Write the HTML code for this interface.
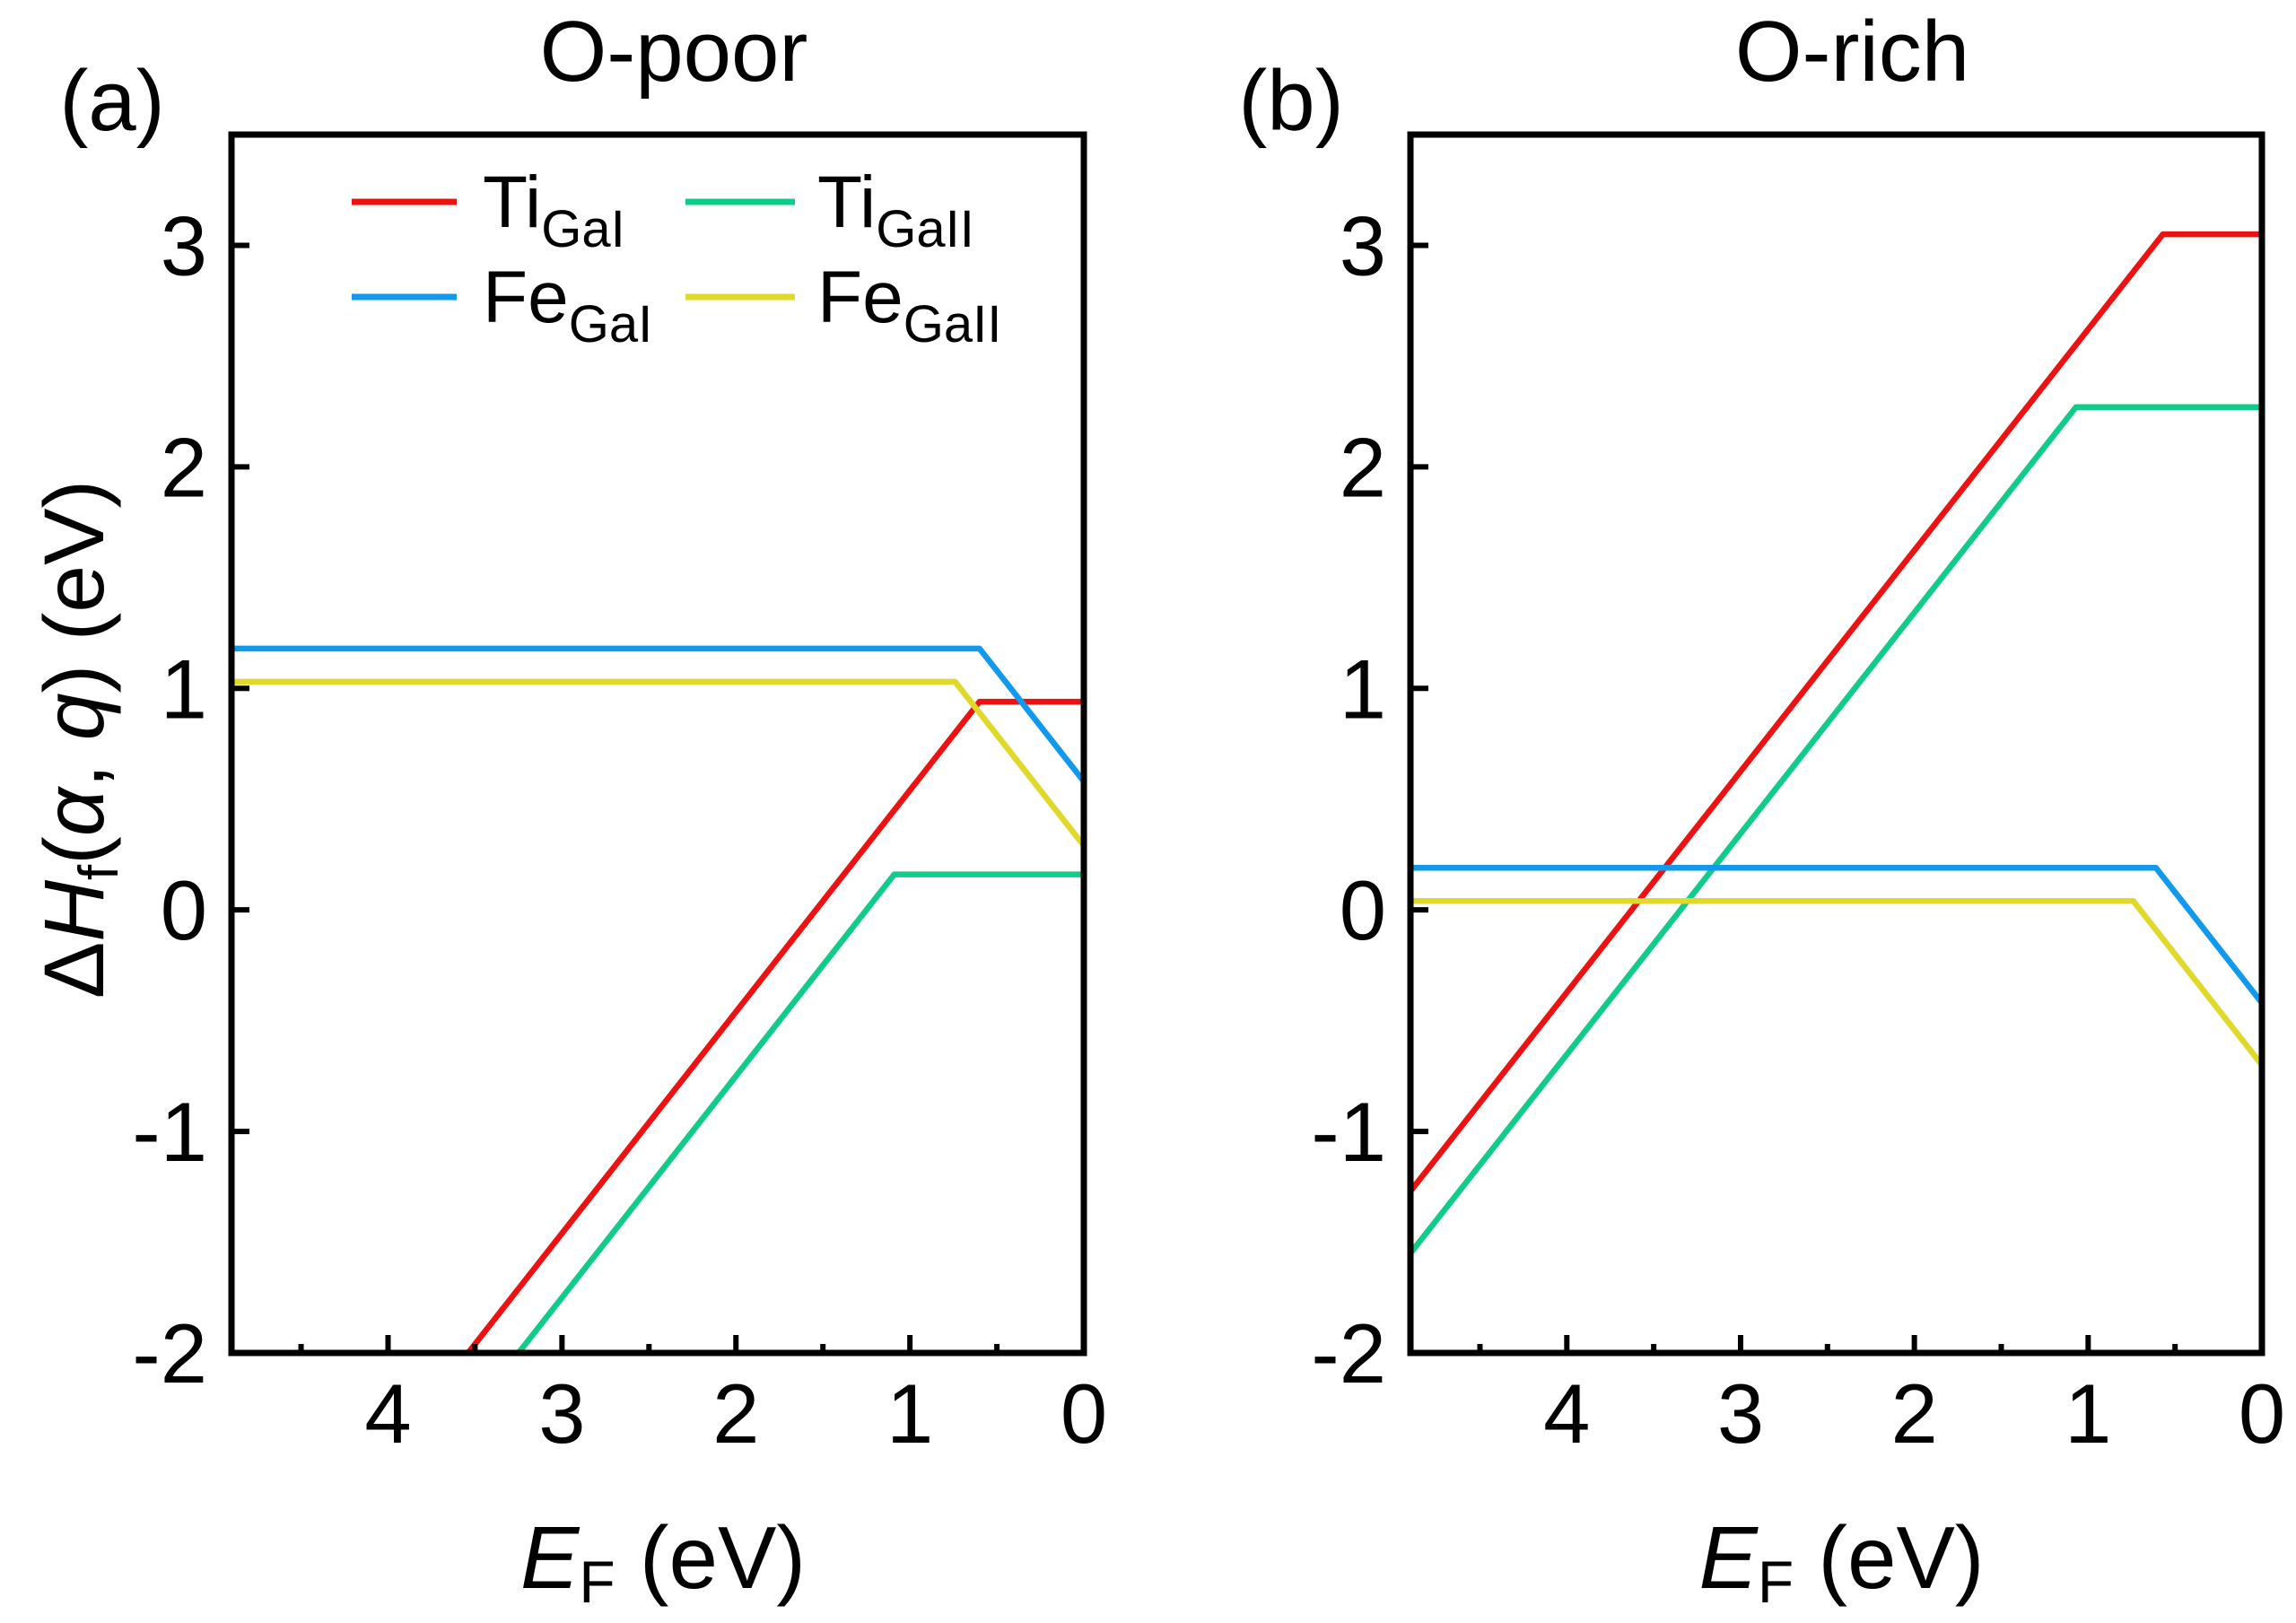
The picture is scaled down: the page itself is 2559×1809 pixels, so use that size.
<!DOCTYPE html>
<html><head><meta charset="utf-8"><style>
html,body{margin:0;padding:0;background:#fff;width:2559px;height:1809px;overflow:hidden;}
svg{display:block;font-family:"Liberation Sans",Arial,sans-serif;}
</style></head><body>
<svg id="fig" width="2559" height="1809" viewBox="0 0 2559 1809" xmlns="http://www.w3.org/2000/svg">
<g id="root"></g>
</svg>
<script>
// Panel (a) O-poor data: breakpoints (E_F, dH)
const aTiGaIx = [4.9, 0.6, 0.0];
const aTiGaIy = [-3.36, 0.94, 0.94];
const aTiGaIIx = [4.9, 1.09, 0.0];
const aTiGaIIy = [-3.65, 0.16, 0.16];
const aFeGaIx = [4.9, 0.6, 0.0];
const aFeGaIy = [1.18, 1.18, 0.58];
const aFeGaIIx = [4.9, 0.74, 0.0];
const aFeGaIIy = [1.03, 1.03, 0.29];
// Panel (b) O-rich data
const bTiGaIx = [4.9, 0.57, 0.0];
const bTiGaIy = [-1.27, 3.05, 3.05];
const bTiGaIIx = [4.9, 1.07, 0.0];
const bTiGaIIy = [-1.55, 2.27, 2.27];
const bFeGaIx = [4.9, 0.61, 0.0];
const bFeGaIy = [0.19, 0.19, -0.42];
const bFeGaIIx = [4.9, 0.74, 0.0];
const bFeGaIIy = [0.04, 0.04, -0.70];
const xTicks = [4, 3, 2, 1, 0];
const xMinor = [4.5, 3.5, 2.5, 1.5, 0.5];
const yTicks = [-2, -1, 0, 1, 2, 3];
const yTickLabels = ["-2", "-1", "0", "1", "2", "3"];

const NS = "http://www.w3.org/2000/svg";
const rootG = document.getElementById('root');
function mk(tag, attrs, parent, text){
  const e = document.createElementNS(NS, tag);
  for (const k in attrs) e.setAttribute(k, attrs[k]);
  if (text !== undefined) e.textContent = text;
  (parent || rootG).appendChild(e);
  return e;
}
const X0 = 4.9, X1 = 0, Y0 = -2, Y1 = 3.5;
const plotTop = 150, plotBottom = 1508;
const colors = {TiGaI:"#ee1111", TiGaII:"#11cc88", FeGaI:"#1199ee", FeGaII:"#e0d82a"};

function panel(id, left, right, title, letter, series){
  const g = mk('g', {});
  
  
  const sx = v => left + (X0 - v) / (X0 - X1) * (right - left);
  const sy = v => plotBottom - (v - Y0) / (Y1 - Y0) * (plotBottom - plotTop);
  const cp = mk('clipPath', {id: id + '-clip'}, g);
  mk('rect', {x:left, y:plotTop, width:right-left, height:plotBottom-plotTop}, cp);
  const sg = mk('g', {'clip-path':'url(#' + id + '-clip)'}, g);
  series.forEach(s => {
    const pts = s.x.map((xv, i) => sx(xv) + ',' + sy(s.y[i])).join(' ');
    const pl = mk('polyline', {points: pts, fill:'none', stroke: s.c, 'stroke-width':6.5, 'stroke-linejoin':'round'}, sg);
    
    
  });
  xTicks.forEach(t => {
    mk('line', {x1:sx(t), x2:sx(t), y1:plotBottom, y2:plotBottom-20, stroke:'#000', 'stroke-width':6}, g);
    const tl = mk('text', {x:sx(t), y:1608, 'font-size':94, 'text-anchor':'middle'}, g, String(t));
    
    
  });
  xMinor.forEach(t => {
    mk('line', {x1:sx(t), x2:sx(t), y1:plotBottom, y2:plotBottom-10, stroke:'#000', 'stroke-width':6}, g);
  });
  yTicks.forEach((t, i) => {
    mk('line', {x1:left, x2:left+20, y1:sy(t), y2:sy(t), stroke:'#000', 'stroke-width':6}, g);
    const tl = mk('text', {x:left-27, y:sy(t)+33, 'font-size':94, 'text-anchor':'end'}, g, yTickLabels[i]);
    
    
  });
  const fr = mk('rect', {x:left, y:plotTop, width:right-left, height:plotBottom-plotTop, fill:'none', stroke:'#000', 'stroke-width':7}, g);
  
  
  const tt = mk('text', {x:(left+right)/2+18, y:90, 'font-size':96, 'text-anchor':'middle'}, g, title);
  
  
  const lt = mk('text', {x:left-133, y:145, 'font-size':96, 'text-anchor':'middle'}, g, letter);
  
  
  const xl = mk('text', {x:(left+right)/2 + 6, y:1770, 'font-size':98, 'text-anchor':'middle'}, g);
  
  
  mk('tspan', {'font-style':'italic'}, xl, 'E');
  mk('tspan', {'font-size':66, dy:16}, xl, 'F');
  mk('tspan', {dy:-16}, xl, ' (eV)');
}

panel('panel-a', 258, 1208, 'O-poor', '(a)', [
  {n:'ti-gai', x:aTiGaIx, y:aTiGaIy, c:colors.TiGaI},
  {n:'ti-gaii', x:aTiGaIIx, y:aTiGaIIy, c:colors.TiGaII},
  {n:'fe-gai', x:aFeGaIx, y:aFeGaIy, c:colors.FeGaI},
  {n:'fe-gaii', x:aFeGaIIx, y:aFeGaIIy, c:colors.FeGaII}
]);
panel('panel-b', 1572, 2521, 'O-rich', '(b)', [
  {n:'ti-gai', x:bTiGaIx, y:bTiGaIy, c:colors.TiGaI},
  {n:'ti-gaii', x:bTiGaIIx, y:bTiGaIIy, c:colors.TiGaII},
  {n:'fe-gai', x:bFeGaIx, y:bFeGaIy, c:colors.FeGaI},
  {n:'fe-gaii', x:bFeGaIIx, y:bFeGaIIy, c:colors.FeGaII}
]);

const yl = mk('text', {transform:'translate(115,824) rotate(-90)', 'font-size':95, 'text-anchor':'middle'});


mk('tspan', {}, yl, 'Δ');
mk('tspan', {'font-style':'italic'}, yl, 'H');
mk('tspan', {'font-size':62, dy:16}, yl, 'f');
mk('tspan', {dy:-16}, yl, '(');
mk('tspan', {'font-style':'italic'}, yl, 'α');
mk('tspan', {}, yl, ', ');
mk('tspan', {'font-style':'italic'}, yl, 'q');
mk('tspan', {}, yl, ') (eV)');

const legend = [
  {lbl:'Ti', sub:'GaI', c:colors.TiGaI, x1:392, x2:509, tx:538, y:225},
  {lbl:'Fe', sub:'GaI', c:colors.FeGaI, x1:392, x2:509, tx:538, y:331},
  {lbl:'Ti', sub:'GaII', c:colors.TiGaII, x1:764, x2:886, tx:911, y:225},
  {lbl:'Fe', sub:'GaII', c:colors.FeGaII, x1:764, x2:886, tx:911, y:331}
];
legend.forEach(l => {
  const g = mk('g', {});
  
  
  mk('line', {x1:l.x1, x2:l.x2, y1:l.y, y2:l.y, stroke:l.c, 'stroke-width':7}, g);
  const t = mk('text', {x:l.tx, y:l.y+28, 'font-size':82}, g);
  mk('tspan', {}, t, l.lbl);
  mk('tspan', {'font-size':58, dy:22}, t, l.sub);
});
</script>
</body></html>
